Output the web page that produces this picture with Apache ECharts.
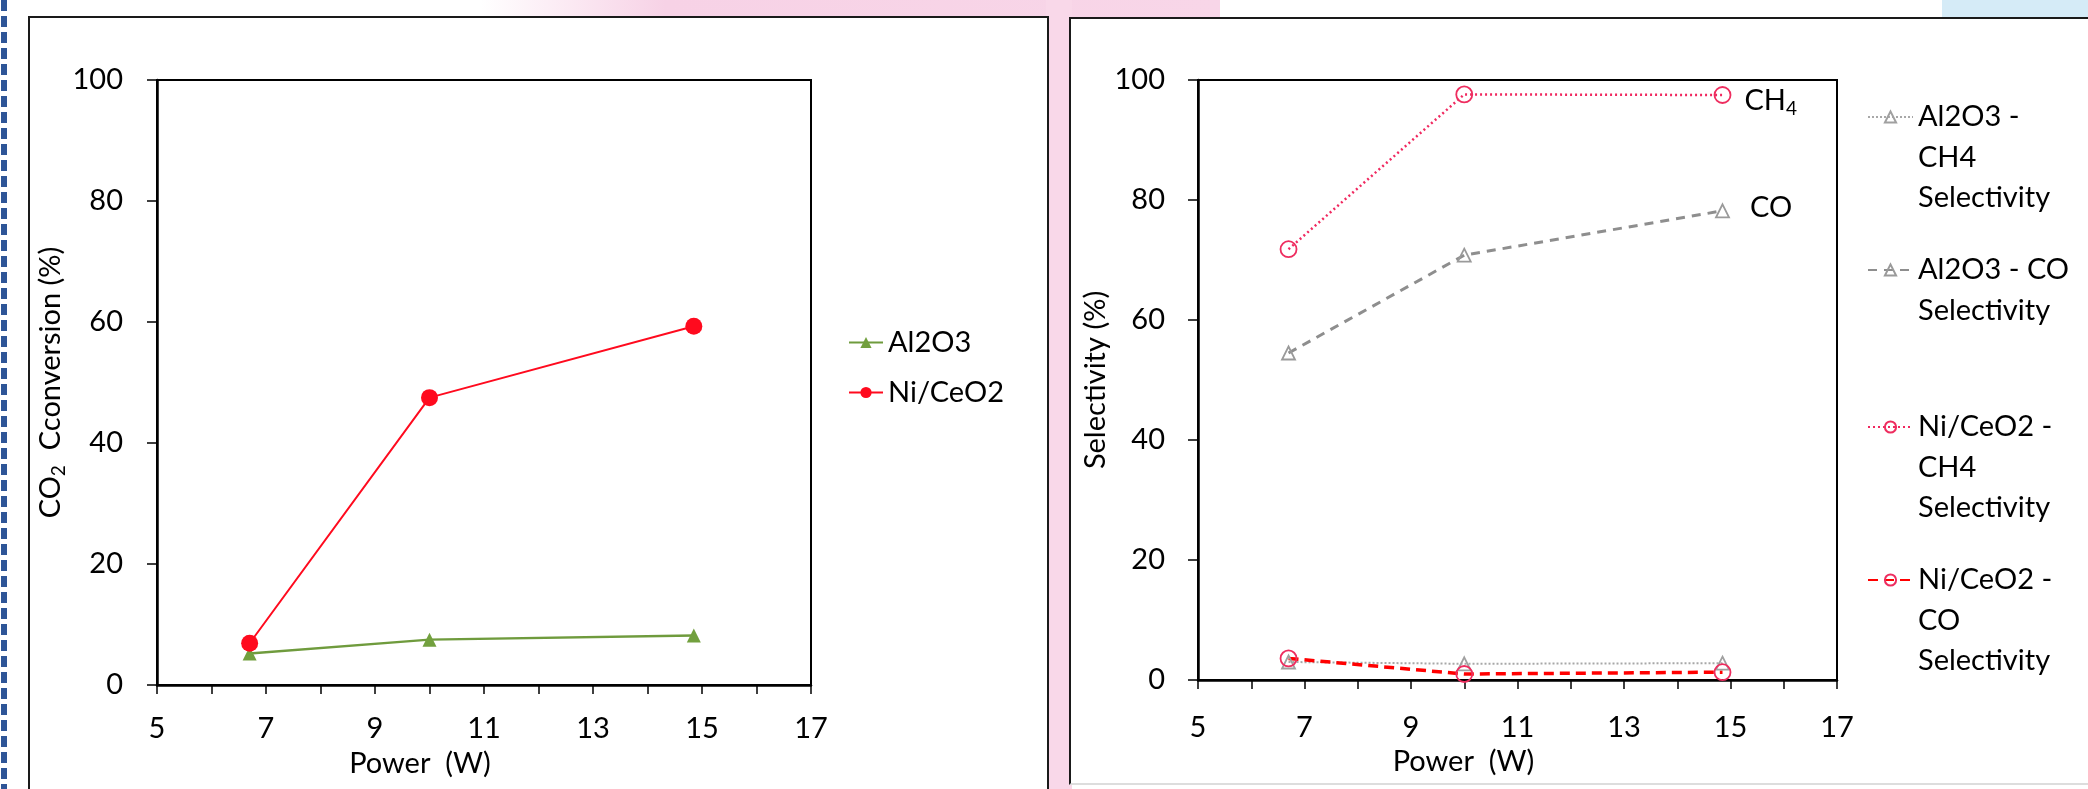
<!DOCTYPE html>
<html>
<head>
<meta charset="utf-8">
<script src="https://cdn.jsdelivr.net/npm/echarts@6/dist/echarts.min.js"></script>
<style>
  html, body { margin: 0; padding: 0; background: #fff; }
  .page { position: relative; width: 2088px; height: 789px; overflow: hidden; background: #fff; }
  .deco { position: absolute; }
  .pink-top { left: 480px; top: 0; width: 740px; height: 22px;
    background: linear-gradient(to right, rgba(248,210,230,0) 0%, #f7d2e6 25%, #f8d6e8 100%); }
  .pink-stripe { left: 1046px; top: 0; width: 26px; height: 789px; background: #f9d8e9; }
  .blue-top { left: 1942px; top: 0; width: 146px; height: 20px; background: #d5ebf7; }
  .blue-dash { left: 1px; top: 0; width: 6px; height: 789px;
    background: repeating-linear-gradient(to bottom, #2e5597 0 11px, transparent 11px 16px); }
  .frame { position: absolute; background: #fff; border: 2px solid #1a1a1a; box-sizing: border-box; }
  .frame-left { left: 28px; top: 16px; width: 1021px; height: 800px; }
  .frame-right { left: 1069px; top: 17px; width: 1040px; height: 768px; border-bottom-color: #ddd; }
  #chart { position: absolute; left: 0; top: 0; width: 2088px; height: 789px; }
</style>
</head>
<body>
<div class="page">
  <div class="deco pink-top"></div>
  <div class="deco pink-stripe"></div>
  <div class="deco blue-top"></div>
  <div class="deco blue-dash"></div>
  <div class="frame frame-left"></div>
  <div class="frame frame-right"></div>
  <div id="chart"></div>
</div>
<script>
// power in W, same for every series
const powerW = [6.7, 10, 14.85];

// left: CO2 conversion (%)
const convAl2O3 = [5.2, 7.5, 8.2];
const convNiCeO2 = [6.9, 47.5, 59.3];

// right: selectivity (%)
const selAl2O3CH4 = [3.0, 2.7, 2.8];
const selAl2O3CO = [54.5, 70.8, 78.2];
const selNiCeO2CH4 = [71.8, 97.6, 97.5];
const selNiCeO2CO = [3.6, 1.0, 1.3];

const xTicks = { min: 5, max: 17, step: 2 };
const yTicks = { min: 0, max: 100, step: 20 };

const FONT = 'Lato';
const FS = 29;

const toPoints = (ys) => powerW.map((x, i) => [x, ys[i]]);
// put a text on the last point of a series
const withEndLabel = (ys, formatter, dist, offset) => {
  const pts = toPoints(ys);
  const last = pts.length - 1;
  pts[last] = {
    value: pts[last],
    label: {
      show: true, position: 'right', distance: dist, offset: offset,
      formatter: formatter, color: '#000', fontFamily: FONT, fontSize: FS,
      rich: {
        a: { fontFamily: FONT, fontSize: FS, color: '#000' },
        b: { fontFamily: FONT, fontSize: 19, color: '#000', verticalAlign: 'bottom', padding: [0, 0, -3, 0] }
      }
    }
  };
  return pts;
};

const wrapped = {
  'Al2O3 - CH4 Selectivity': ['Al2O3 -', 'CH4', 'Selectivity'],
  'Al2O3 - CO Selectivity': ['Al2O3 - CO', 'Selectivity'],
  'Ni/CeO2 - CH4 Selectivity': ['Ni/CeO2 -', 'CH4', 'Selectivity'],
  'Ni/CeO2 - CO Selectivity': ['Ni/CeO2 -', 'CO', 'Selectivity']
};
const LH = 40.5;
// icon sits on the first line: pad with blank lines above
const legendText = (name) => {
  const lines = wrapped[name];
  return new Array(lines.length - 1).fill('').concat(lines).join('\n');
};
const rightLegend = (name, firstLineY) => ({
  data: [name],
  orient: 'vertical',
  left: 1867,
  top: firstLineY - (wrapped[name].length - 0.5) * LH,
  padding: 0,
  itemWidth: 45,
  itemHeight: 14,
  formatter: legendText,
  textStyle: { fontFamily: FONT, fontSize: FS, color: '#000', lineHeight: LH, padding: [0, 0, 0, 0] }
});

const xAxisBase = (gridIndex, labelMargin, namePadRight) => ({
  type: 'value', gridIndex: gridIndex,
  min: xTicks.min, max: xTicks.max, interval: xTicks.step,
  name: 'Power  (W)', nameLocation: 'middle', nameGap: 64,
  nameTextStyle: { fontFamily: FONT, fontSize: FS, color: '#000', padding: [0, namePadRight, 0, 0] },
  axisLine: { onZero: false, lineStyle: { color: '#000', width: 2.5 } },
  axisTick: { show: true, inside: false, length: 9, lineStyle: { color: '#000', width: 1.5 } },
  minorTick: { show: true, splitNumber: 2, length: 9, lineStyle: { color: '#000', width: 1.5 } },
  axisLabel: { fontFamily: FONT, fontSize: FS, color: '#000', margin: labelMargin },
  splitLine: { show: false }
});

const yAxisBase = (gridIndex, name, labelMargin) => ({
  type: 'value', gridIndex: gridIndex,
  min: yTicks.min, max: yTicks.max, interval: yTicks.step,
  name: name, nameLocation: 'middle', nameGap: 80,
  nameTextStyle: {
    fontFamily: FONT, fontSize: FS, color: '#000',
    rich: {
      a: { fontFamily: FONT, fontSize: FS, color: '#000' },
      b: { fontFamily: FONT, fontSize: 19, color: '#000', verticalAlign: 'bottom', padding: [0, 0, -3, 0] }
    }
  },
  axisLine: { show: true, lineStyle: { color: '#000', width: 2.5 } },
  axisTick: { show: true, inside: false, length: 10, lineStyle: { color: '#000', width: 1.5 } },
  axisLabel: { fontFamily: FONT, fontSize: FS, color: '#000', margin: labelMargin },
  splitLine: { show: false }
});

const openMarker = (color) => ({ color: 'rgba(255,255,255,0)', borderColor: color, borderWidth: 1.8 });

const option = {
  animation: false,
  textStyle: { fontFamily: FONT },
  grid: [
    { left: 157, top: 80, width: 654, height: 605, show: true, borderColor: '#000', borderWidth: 2, backgroundColor: 'transparent' },
    { left: 1198, top: 80, width: 639, height: 600, show: true, borderColor: '#000', borderWidth: 2, backgroundColor: 'transparent' }
  ],
  xAxis: [xAxisBase(0, 29, 128), xAxisBase(1, 33, 108)],
  yAxis: [
    yAxisBase(0, '{a|CO}{b|2}{a|  Cconversion (%)}', 34),
    yAxisBase(1, 'Selectivity (%)', 33)
  ],
  legend: [
    {
      data: ['Al2O3', 'Ni/CeO2'],
      orient: 'vertical', left: 848, top: 325, padding: 0,
      itemWidth: 34, itemHeight: 14, itemGap: 15,
      textStyle: { fontFamily: FONT, fontSize: FS, color: '#000', lineHeight: 35 }
    },
    rightLegend('Al2O3 - CH4 Selectivity', 117),
    rightLegend('Al2O3 - CO Selectivity', 270),
    rightLegend('Ni/CeO2 - CH4 Selectivity', 427),
    rightLegend('Ni/CeO2 - CO Selectivity', 580)
  ],
  series: [
    {
      name: 'Al2O3', type: 'line', xAxisIndex: 0, yAxisIndex: 0,
      data: toPoints(convAl2O3),
      symbol: 'triangle', symbolSize: 14,
      lineStyle: { color: '#6f9b3d', width: 2.5 },
      itemStyle: { color: '#72a03e' }
    },
    {
      name: 'Ni/CeO2', type: 'line', xAxisIndex: 0, yAxisIndex: 0,
      data: toPoints(convNiCeO2),
      symbol: 'circle', symbolSize: 17,
      lineStyle: { color: '#ff0a1e', width: 2 },
      itemStyle: { color: '#ff0a1e' }
    },
    {
      name: 'Al2O3 - CH4 Selectivity', type: 'line', xAxisIndex: 1, yAxisIndex: 1,
      data: toPoints(selAl2O3CH4),
      symbol: 'triangle', symbolSize: 13,
      lineStyle: { color: '#a8a8a8', width: 2, type: 'dotted' },
      itemStyle: openMarker('#a0a0a0')
    },
    {
      name: 'Al2O3 - CO Selectivity', type: 'line', xAxisIndex: 1, yAxisIndex: 1,
      data: withEndLabel(selAl2O3CO, 'CO', 20, [0, -3]),
      symbol: 'triangle', symbolSize: 13,
      lineStyle: { color: '#8e8e8e', width: 3, type: [9, 7] },
      itemStyle: openMarker('#9a9a9a')
    },
    {
      name: 'Ni/CeO2 - CH4 Selectivity', type: 'line', xAxisIndex: 1, yAxisIndex: 1,
      data: withEndLabel(selNiCeO2CH4, '{a|CH}{b|4}', 13, [0, 6]),
      symbol: 'circle', symbolSize: 16,
      lineStyle: { color: '#f0285f', width: 2.5, type: [2, 3] },
      itemStyle: openMarker('#ee2d5f')
    },
    {
      name: 'Ni/CeO2 - CO Selectivity', type: 'line', xAxisIndex: 1, yAxisIndex: 1,
      data: toPoints(selNiCeO2CO),
      symbol: 'circle', symbolSize: 16,
      lineStyle: { color: '#ff0000', width: 3.5, type: [10, 6] },
      itemStyle: openMarker('#ee2d5f')
    }
  ]
};

const chart = echarts.init(document.getElementById('chart'));
chart.setOption(option);
window.addEventListener('resize', () => {
  chart.resize();
});
</script>
</body>
</html>
